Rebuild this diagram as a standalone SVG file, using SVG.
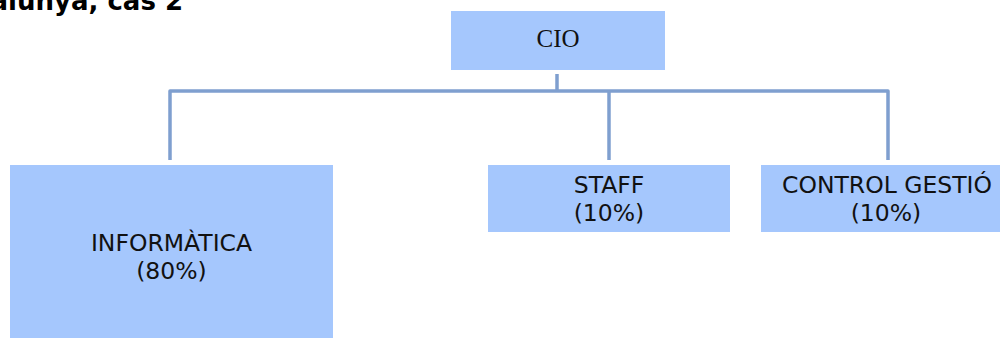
<svg xmlns="http://www.w3.org/2000/svg" width="1000" height="338" viewBox="0 0 1000 338">
  <style>
    .box { fill: #a5c7fd; }
    .lbl { font-family: "DejaVu Sans", Verdana, sans-serif; font-size: 23.5px; fill: #111; text-anchor: middle; }
    .cio { font-family: "Liberation Serif", "Times New Roman", serif; font-size: 25px; fill: #111; text-anchor: middle; }
    .title { font-family: "DejaVu Sans", Verdana, sans-serif; font-size: 26px; font-weight: bold; fill: #000; text-anchor: end; }
    .wire { fill: none; stroke: #7f9fcf; stroke-width: 3.5; stroke-linejoin: round; }
  </style>

  <!-- page heading, cut by the top edge -->
  <text class="title" x="183" y="10">Catalunya, cas 2</text>

  <!-- connectors -->
  <g id="connectors">
    <path class="wire" d="M557 74 V91"/>
    <path class="wire" d="M170 160 V91 H888 V160"/>
    <path class="wire" d="M609 91 V160"/>
  </g>

  <g id="cio">
    <rect class="box" x="451" y="11" width="214" height="59"/>
    <text class="cio" x="558" y="47">CIO</text>
  </g>

  <g id="informatica">
    <rect class="box" x="10" y="165" width="323" height="175"/>
    <text class="lbl" x="171.5" y="251">INFORMÀTICA</text>
    <text class="lbl" x="171.5" y="279">(80%)</text>
  </g>

  <g id="staff">
    <rect class="box" x="488" y="165" width="242" height="67"/>
    <text class="lbl" x="609" y="193">STAFF</text>
    <text class="lbl" x="609" y="221">(10%)</text>
  </g>

  <g id="control-gestio">
    <rect class="box" x="761" y="165" width="245" height="67"/>
    <text class="lbl" x="887" y="193">CONTROL GESTIÓ</text>
    <text class="lbl" x="886" y="221">(10%)</text>
  </g>
</svg>
